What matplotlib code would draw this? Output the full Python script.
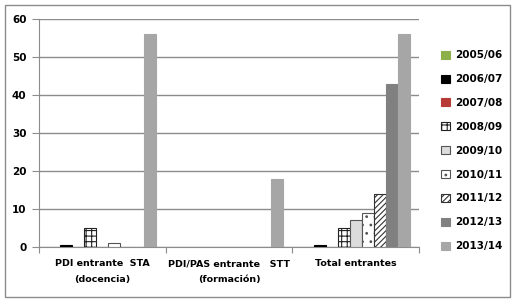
import numpy as np
import matplotlib.pyplot as plt
from matplotlib.patches import Rectangle

categories = ["PDI entrante  STA\n(docencia)", "PDI/PAS entrante   STT\n(formación)", "Total entrantes"]
years = ["2005/06", "2006/07", "2007/08", "2008/09", "2009/10", "2010/11", "2011/12", "2012/13", "2013/14"]
v0506 = [0, 0, 0]
v0607 = [0.6, 0, 0.6]
v0708 = [0, 0, 0]
v0809 = [5, 0, 5]
v0910 = [0, 0, 7]
v1011 = [1, 0, 9]
v1112 = [0, 0, 14]
v1213 = [0, 0, 43]
v1314 = [56, 18, 56]
series = [v0506, v0607, v0708, v0809, v0910, v1011, v1112, v1213, v1314]

styles = [
    dict(color="#8DB04A", edgecolor="#8DB04A"),
    dict(color="#000000", edgecolor="#000000"),
    dict(color="#B83A36", edgecolor="#B83A36"),
    dict(color="white", edgecolor="#222222", hatch="+++"),
    dict(color="#DCDCDC", edgecolor="#555555"),
    dict(color="white", edgecolor="#555555", hatch=".."),
    dict(color="white", edgecolor="#333333", hatch="//////"),
    dict(color="#808080", edgecolor="#808080"),
    dict(color="#A6A6A6", edgecolor="#A6A6A6"),
]

plt.rcParams["font.family"] = "DejaVu Sans"
plt.rcParams["hatch.linewidth"] = 0.8

fig = plt.figure(figsize=(5.16, 3.02), dpi=100)
fig.patches.append(Rectangle((5 / 516, 5 / 302), 505 / 516, 292 / 302, transform=fig.transFigure,
                             fill=False, edgecolor="#8C8C8C", linewidth=1))
ax = fig.add_axes([39 / 516, 1 - 247 / 302, 380 / 516, 228 / 302])

x = np.arange(len(categories))
w = 12 / 127
handles = []
for i, (vals, st) in enumerate(zip(series, styles)):
    h = np.array(vals, dtype=float)
    h[h == 0] = np.nan
    b = ax.bar(x + (i - 4) * w, h, width=w, linewidth=0.8, label=years[i], zorder=3, **st)
    handles.append(b)

ax.set_xlim(-0.5, 2.5)
ax.set_ylim(0, 60)
ax.set_yticks(range(0, 61, 10))
ax.yaxis.grid(True, color="#8C8C8C", linewidth=1)
ax.set_axisbelow(True)
for s in ["top", "right"]:
    ax.spines[s].set_visible(False)
ax.spines["left"].set_color("#8C8C8C")
ax.spines["bottom"].set_color("#8C8C8C")
ax.tick_params(axis="y", length=5, color="#8C8C8C", labelsize=7.5, pad=4)
ax.set_yticklabels([str(t) for t in range(0, 61, 10)], fontweight="bold")
ax.set_xticks([-0.5, 0.5, 1.5, 2.5])
ax.set_xticklabels([])
ax.tick_params(axis="x", length=4, color="#8C8C8C")
ax.set_xticks(x, minor=True)
ax.set_xticklabels(categories, minor=True, fontsize=6.8, fontweight="bold", linespacing=1.9)
ax.tick_params(axis="x", which="minor", length=0, pad=9)

fig.legend(handles=handles, loc="upper left", bbox_to_anchor=(432 / 516, 1 - 41 / 302),
           frameon=False, prop=dict(size=7.5, weight="bold"), handlelength=0.8, handleheight=0.8,
           handletextpad=0.5, labelspacing=1.33)

fig.savefig("out.png", dpi=100)
